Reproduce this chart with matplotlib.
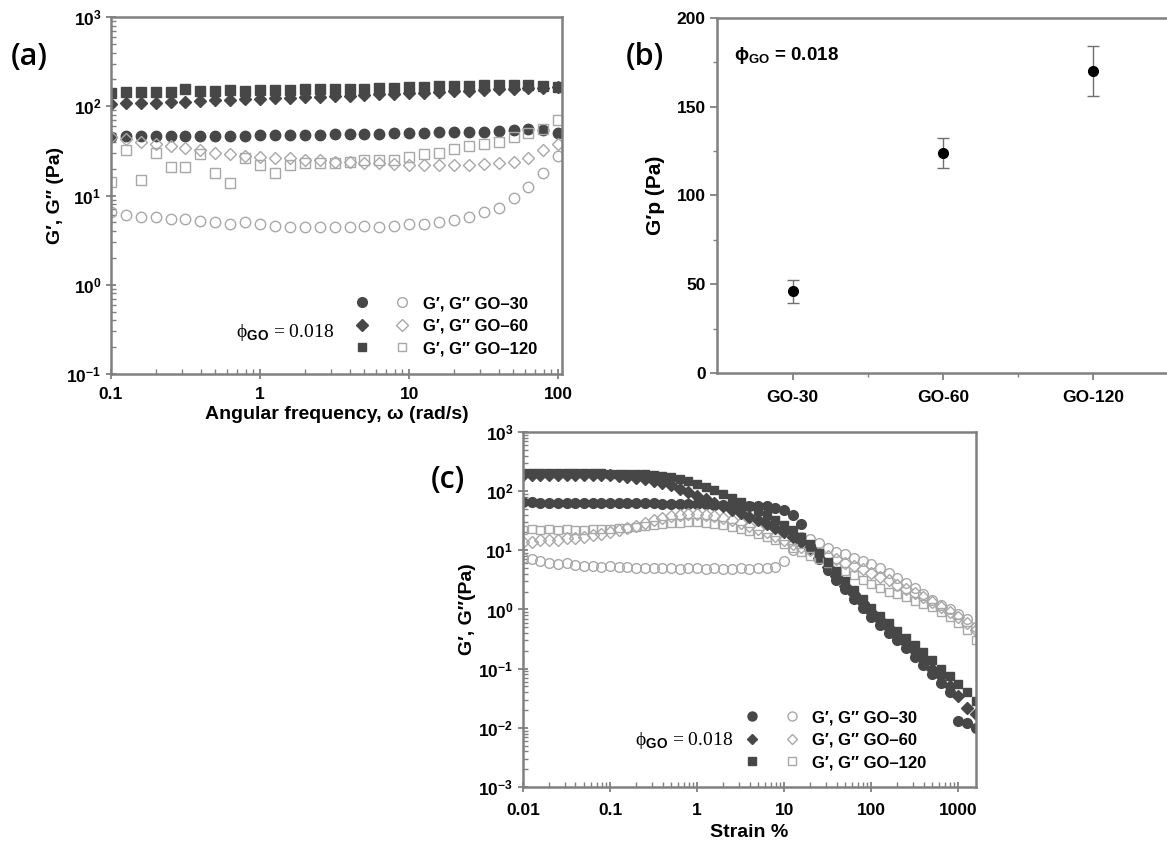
import matplotlib
matplotlib.use('Agg')
import matplotlib.pyplot as plt
import numpy as np
from matplotlib.legend_handler import HandlerTuple
from matplotlib.lines import Line2D
from matplotlib.ticker import LogLocator, NullFormatter, FixedLocator

plt.rcParams['font.family'] = ['Liberation Sans', 'DejaVu Sans']
plt.rcParams['font.weight'] = 'bold'
plt.rcParams['axes.labelweight'] = 'bold'
plt.rcParams['mathtext.fontset'] = 'custom'
plt.rcParams['mathtext.rm'] = 'Liberation Sans:bold'
plt.rcParams['mathtext.sf'] = 'Liberation Sans:bold'
plt.rcParams['mathtext.bf'] = 'Liberation Sans:bold'
plt.rcParams['mathtext.it'] = 'Liberation Sans:bold:italic'

# ---- (a) frequency sweep ----
freq = [0.1, 0.126, 0.158, 0.2, 0.251, 0.316, 0.398, 0.501, 0.631, 0.794,
        1, 1.26, 1.58, 2, 2.51, 3.16, 3.98, 5.01, 6.31, 7.94,
        10, 12.6, 15.8, 20, 25.1, 31.6, 39.8, 50.1, 63.1, 79.4, 100]
gp_a_30 = [45, 46, 46, 46, 46, 47, 47, 47, 47, 47, 48, 48, 48, 48, 48, 49,
           49, 49, 49, 50, 50, 50, 51, 51, 52, 52, 53, 54, 55, 54, 50]
gp_a_60 = [105, 108, 110, 110, 112, 113, 115, 117, 118, 120, 122, 124, 125,
           127, 128, 130, 132, 134, 136, 138, 140, 142, 145, 148, 150, 153,
           156, 158, 160, 162, 165]
gp_a_120 = [140, 145, 145, 145, 145, 155, 148, 150, 152, 150, 152, 152, 153,
            155, 155, 157, 158, 158, 160, 162, 163, 165, 167, 168, 170, 172,
            173, 172, 172, 170, 165]
gpp_a_30 = [6.5, 6.0, 5.8, 5.7, 5.5, 5.5, 5.2, 5.0, 4.8, 5.0, 4.75, 4.5, 4.45,
            4.4, 4.4, 4.45, 4.45, 4.5, 4.45, 4.6, 4.75, 4.8, 5.0, 5.3, 5.8,
            6.5, 7.3, 9.3, 12.5, 18, 28]
gpp_a_60 = [45, 43, 40, 38, 36, 34, 32, 30, 29, 28, 27, 26, 26, 25, 25, 24,
            24, 23, 23, 22.5, 22, 22, 22, 22, 22, 22.5, 23, 24, 26, 32, 38]
gpp_a_120 = [14, 32, 15, 30, 21, 21, 29.5, 18, 13.8, 26, 22, 18, 22, 23, 23,
             23, 23.5, 25, 25, 25, 27, 29, 30, 33, 36, 38, 40, 45, 50, 56, 70]

# ---- (b) plateau modulus ----
samples = ['GO-30', 'GO-60', 'GO-120']
gp_plateau = [46, 124, 170]
gp_plateau_err = [6.3, 8.5, 14]

# ---- (c) strain sweep ----
strain = [0.01, 0.0126, 0.0158, 0.02, 0.0251, 0.0316, 0.0398, 0.0501, 0.0631, 0.0794,
          0.1, 0.126, 0.158, 0.2, 0.251, 0.316, 0.398, 0.501, 0.631, 0.794,
          1, 1.26, 1.58, 2, 2.51, 3.16, 3.98, 5.01, 6.31, 7.94,
          10, 12.6, 15.8, 20, 25.1, 31.6, 39.8, 50.1, 63.1, 79.4,
          100, 126, 158, 200, 251, 316, 398, 501, 631, 794,
          1000, 1259, 1585]
gp_c_30 = [65, 65, 64, 64, 64, 64, 64, 63, 63, 63,
           63, 63, 62, 62, 62, 62, 61, 61, 61, 60,
           60, 60, 59, 59, 58, 58, 57, 56, 55, 52,
           48, 40, 28, 12, 7, 4.6, 3.2, 2.2, 1.5, 1.05,
           0.75, 0.55, 0.4, 0.3, 0.22, 0.16, 0.115, 0.082, 0.058, 0.04,
           0.013, 0.012, 0.010]
gp_c_60 = [185, 186, 186, 187, 187, 187, 186, 186, 185, 185,
           184, 180, 175, 168, 160, 150, 138, 125, 110, 96,
           84, 73, 63, 55, 48, 42, 37, 32, 28, 24,
           20, 17, 14, 11, 7.5, 5.3, 3.7, 2.5, 1.8, 1.3,
           0.9, 0.66, 0.48, 0.36, 0.27, 0.2, 0.145, 0.1, 0.075, 0.05,
           0.035, 0.022, 0.017]
gp_c_120 = [200, 200, 201, 201, 201, 200, 200, 200, 199, 199,
            198, 198, 197, 196, 194, 190, 182, 172, 160, 146,
            132, 117, 103, 90, 77, 66, 56, 47, 40, 33,
            27, 22, 17, 13, 9, 6.3, 4.4, 3.0, 2.1, 1.5,
            1.05, 0.78, 0.58, 0.44, 0.33, 0.25, 0.19, 0.14, 0.1, 0.075,
            0.055, 0.04, 0.028]
gpp_c_30 = [7.5, 7, 6.5, 6.2, 5.8, 6, 5.6, 5.5, 5.4, 5.3,
            5.4, 5.2, 5.2, 5.1, 5.1, 5, 5, 5, 4.9, 5,
            5, 4.9, 5, 4.9, 4.9, 5, 4.9, 5, 5, 5.2,
            6.5, 10, 17, 15.5, 13.5, 11, 9.5, 8.5, 7.5, 6.7,
            5.8, 5, 4.2, 3.4, 2.8, 2.3, 1.8, 1.45, 1.2, 1.0,
            0.85, 0.7, 0.5]
gpp_c_60 = [14, 14, 15, 15, 15, 16, 16, 17, 18, 19,
            20, 22, 24, 26, 29, 32, 35, 38, 40, 41,
            41, 40, 38, 35, 32, 29, 26, 23, 20, 17.5,
            15, 13, 11.5, 10, 9, 8, 7, 6.2, 5.5, 4.8,
            4.2, 3.6, 3.1, 2.6, 2.2, 1.9, 1.6, 1.35, 1.1, 0.9,
            0.75, 0.6, 0.45]
gpp_c_120 = [22, 23, 22, 23, 22, 23, 22, 22, 23, 23,
             23, 24, 24, 25, 26, 27, 28, 29, 29, 30,
             30, 29, 28, 27, 25, 23, 21, 19, 17, 15,
             13, 11, 9.5, 8, 7, 6, 5.2, 4.5, 3.8, 3.2,
             2.7, 2.3, 2.0, 1.8, 1.6, 1.4, 1.25, 1.1, 0.9, 0.75,
             0.6, 0.45, 0.3]

dark = '#474747'
light = '#a8a8a8'
grey = '#808080'
legend_labels = ['G′, G′′ GO–30', 'G′, G′′ GO–60', 'G′, G′′ GO–120']
phi_text = 'ϕ$_{\\mathsf{GO}}$ = 0.018'


def style_log(ax):
    for s in ax.spines.values():
        s.set_color(grey)
        s.set_linewidth(1.8)
    for axis in (ax.xaxis, ax.yaxis):
        axis.set_minor_locator(LogLocator(base=10, subs=np.arange(2, 10), numticks=100))
        axis.set_minor_formatter(NullFormatter())
    ax.tick_params(which='both', color=grey, labelsize=12.5)
    ax.tick_params(which='major', direction='inout', length=7, width=1.3)
    ax.tick_params(which='minor', direction='in', length=3.5, width=1)


def sweep(ax, x, filled, opened, ms):
    marks = ['o', 'D', 's']
    sizes = [ms, ms - 1.2, ms - 0.6]
    handles = []
    for yf, yo, m, s in zip(filled, opened, marks, sizes):
        ax.plot(x, yo, m, mfc='none', mec=light, mew=1, ms=s)
        ax.plot(x, yf, m, color=dark, mec=dark, ms=s)
        hf = Line2D([], [], ls='none', marker=m, color=dark, ms=s - 0.5)
        ho = Line2D([], [], ls='none', marker=m, mfc='none', mec=light, mew=1, ms=s - 0.5)
        handles.append((hf, ho))
    return handles


fig = plt.figure(figsize=(11.67, 8.52), dpi=100)

# (a)
ax1 = fig.add_axes([0.0951, 0.561, 0.3865, 0.419])
ax1.set_xscale('log')
ax1.set_yscale('log')
h = sweep(ax1, freq, [gp_a_30, gp_a_60, gp_a_120], [gpp_a_30, gpp_a_60, gpp_a_120], 7.5)
ax1.set_xlim(0.1, 106)
ax1.set_ylim(0.1, 1000)
style_log(ax1)
ax1.set_xticks([0.1, 1, 10, 100])
ax1.set_xticklabels(['0.1', '1', '10', '100'])
ax1.tick_params(axis='x', pad=6)
ax1.set_xlabel('Angular frequency, ω (rad/s)', fontsize=14, labelpad=3)
ax1.set_ylabel('G′, G′′ (Pa)', fontsize=14, labelpad=2)
ax1.legend(h, legend_labels, handler_map={tuple: HandlerTuple(ndivide=None, pad=1.8)},
           loc='center left', bbox_to_anchor=(0.545, 0.134), frameon=False,
           numpoints=1, handlelength=3.0, handletextpad=1.0, borderpad=0,
           borderaxespad=0, labelspacing=0.45, prop={'size': 12, 'weight': 'bold'})
ax1.text(0.386, 0.115, phi_text, transform=ax1.transAxes, ha='center', va='center',
         fontsize=14, fontweight='normal', family=['Liberation Serif', 'DejaVu Serif'])

# (b)
ax2 = fig.add_axes([0.6148, 0.5622, 0.3865, 0.4167])
pos = np.arange(1, len(samples) + 1)
ax2.errorbar(pos, gp_plateau, yerr=gp_plateau_err, fmt='o', color='black', ms=7,
             ecolor='#707070', elinewidth=1, capsize=4, capthick=1)
ax2.set_xlim(0.5, 3.5)
ax2.set_ylim(0, 200)
ax2.set_xticks(pos)
ax2.set_xticklabels(samples)
ax2.set_yticks([0, 50, 100, 150, 200])
ax2.xaxis.set_minor_locator(FixedLocator([1.5, 2.5]))
ax2.yaxis.set_minor_locator(FixedLocator([25, 75, 125, 175]))
for s in ax2.spines.values():
    s.set_color(grey)
    s.set_linewidth(1.8)
ax2.spines['right'].set_visible(False)
ax2.tick_params(which='both', color=grey, labelsize=12.5, direction='out')
ax2.tick_params(which='major', length=5, width=1.3)
ax2.tick_params(which='minor', length=3, width=1)
ax2.tick_params(axis='x', pad=7)
ax2.set_ylabel('G′p (Pa)', fontsize=15, labelpad=8)
ax2.text(0.037, 0.893, 'ϕ$_{\\mathsf{GO}}$ = 0.018', transform=ax2.transAxes,
         ha='left', va='center', fontsize=13.5)

# (c)
ax3 = fig.add_axes([0.4482, 0.0763, 0.3882, 0.4167])
ax3.set_xscale('log')
ax3.set_yscale('log')
h = sweep(ax3, strain, [gp_c_30, gp_c_60, gp_c_120], [gpp_c_30, gpp_c_60, gpp_c_120], 7.0)
ax3.set_xlim(0.01, 1600)
ax3.set_ylim(0.001, 1000)
style_log(ax3)
ax3.set_xticks([0.01, 0.1, 1, 10, 100, 1000])
ax3.set_xticklabels(['0.01', '0.1', '1', '10', '100', '1000'])
ax3.tick_params(axis='x', pad=8)
ax3.set_xlabel('Strain %', fontsize=14, labelpad=4)
ax3.set_ylabel('G′, G′′(Pa)', fontsize=14, labelpad=2)
ax3.legend(h, legend_labels, handler_map={tuple: HandlerTuple(ndivide=None, pad=1.8)},
           loc='center left', bbox_to_anchor=(0.494, 0.132), frameon=False,
           numpoints=1, handlelength=3.0, handletextpad=0.9, borderpad=0,
           borderaxespad=0, labelspacing=0.45, prop={'size': 12, 'weight': 'bold'})
ax3.text(0.355, 0.13, phi_text, transform=ax3.transAxes, ha='center', va='center',
         fontsize=14, fontweight='normal', family=['Liberation Serif', 'DejaVu Serif'])

for lbl, px, py in [('(a)', 29, 57), ('(b)', 645, 57), ('(c)', 448, 480)]:
    fig.text(px / 1167, 1 - py / 852, lbl, fontsize=22, fontweight='semibold',
             family=['Open Sans', 'DejaVu Sans'], ha='center', va='center')

fig.savefig('out.png', dpi=100)
